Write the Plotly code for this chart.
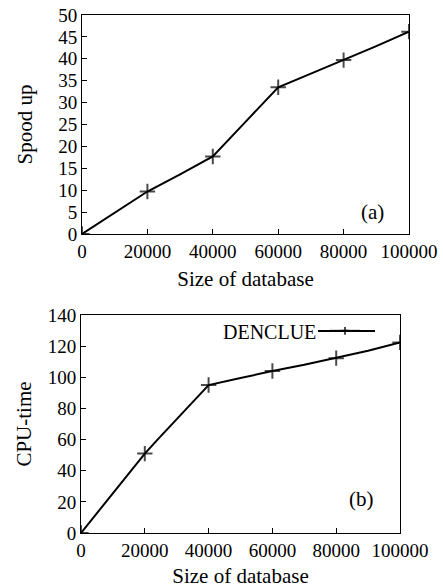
import plotly.graph_objects as go

# Data
size_a = [0, 10000, 20000, 30000, 40000, 50000, 60000, 70000, 80000, 90000, 100000]
speedup = [0, 4.8, 9.7, 13.6, 17.7, 25.6, 33.5, 36.6, 39.7, 42.9, 46.2]
size_b = [0, 10000, 20000, 24000, 30000, 40000, 50000, 60000, 70000, 80000, 90000, 100000]
cputime = [0, 25.4, 51, 60, 73.1, 95, 99.5, 104, 108, 112.3, 117, 122.4]
marker_sizes = [0, 20000, 40000, 60000, 80000, 100000]
x_ticks = [0, 20000, 40000, 60000, 80000, 100000]
x_ticklabels = ["0", "20000", "40000", "60000", "80000", "100000"]
y_ticks_a = [0, 5, 10, 15, 20, 25, 30, 35, 40, 45, 50]
y_ticks_b = [0, 20, 40, 60, 80, 100, 120, 140]

W, H = 443, 588
ML, MR, MT, MB = 81, 34, 15, 55
PW, PH = W - ML - MR, H - MT - MB
FONT = "Liberation Serif"
FS = 19
TFS = 21
MS = 11


def px(x):
    return (x - ML) / PW


def py(y):
    return (H - MB - y) / PH


fig = go.Figure()
fig.add_trace(go.Scatter(
    x=size_a, y=speedup, mode="lines+markers", xaxis="x", yaxis="y",
    line=dict(color="black", width=2),
    marker=dict(symbol="cross-thin", size=[MS if x in marker_sizes else 0 for x in size_a],
                color="black", line=dict(color="black", width=2)),
    showlegend=False,
))
fig.add_trace(go.Scatter(
    x=size_b, y=cputime, mode="lines+markers", xaxis="x2", yaxis="y2",
    name=" ",
    line=dict(color="black", width=2),
    marker=dict(symbol="cross-thin", size=[MS if x in marker_sizes else 0 for x in size_b],
                color="black", line=dict(color="black", width=2)),
    showlegend=True,
))

axis_common = dict(
    showline=True, mirror=True, linecolor="black", linewidth=1,
    ticks="inside", ticklen=5, tickwidth=1, tickcolor="black",
    showgrid=False, zeroline=False, automargin=False,
    tickfont=dict(family=FONT, size=FS, color="black"),
)

fig.update_layout(
    width=W, height=H,
    margin=dict(l=ML, r=MR, t=MT, b=MB, autoexpand=False),
    paper_bgcolor="white", plot_bgcolor="white",
    font=dict(family=FONT, size=FS, color="black"),
    xaxis=dict(domain=[px(82), px(409)], anchor="y", range=[0, 100000],
               tickvals=x_ticks, ticktext=x_ticklabels,
               title=dict(text="Size of database", standoff=10,
                          font=dict(family=FONT, size=TFS)),
               **axis_common),
    yaxis=dict(domain=[py(234), py(15)], anchor="x", range=[0, 50],
               tickvals=y_ticks_a,
               title=dict(text="Spood up", standoff=19,
                          font=dict(family=FONT, size=TFS)),
               **axis_common),
    xaxis2=dict(domain=[px(81), px(400)], anchor="y2", range=[0, 100000],
                tickvals=x_ticks, ticktext=x_ticklabels,
                title=dict(text="Size of database", standoff=16,
                           font=dict(family=FONT, size=TFS)),
                **axis_common),
    yaxis2=dict(domain=[py(533), py(315)], anchor="x2", range=[0, 140],
                tickvals=y_ticks_b,
                title=dict(text="CPU-time", standoff=10,
                           font=dict(family=FONT, size=TFS)),
                **axis_common),
    legend=dict(x=px(325), y=py(331), xanchor="left", yanchor="middle",
                bgcolor="rgba(0,0,0,0)", borderwidth=0,
                font=dict(family=FONT, size=FS)),
    shapes=[
        dict(type="line", xref="paper", yref="paper",
             x0=px(318), x1=px(375), y0=py(331), y1=py(331),
             line=dict(color="black", width=2)),
    ],
    annotations=[
        dict(text="(a)", x=px(386), y=py(212), xref="paper", yref="paper",
             showarrow=False, font=dict(family=FONT, size=TFS)),
        dict(text="(b)", x=px(376), y=py(513), xref="paper", yref="paper",
             showarrow=False, font=dict(family=FONT, size=TFS)),
        dict(text="DENCLUE", x=px(318), y=py(332), xref="paper", yref="paper",
             xanchor="right", showarrow=False, font=dict(family=FONT, size=20)),
    ],
)

fig.write_html("out.html")
